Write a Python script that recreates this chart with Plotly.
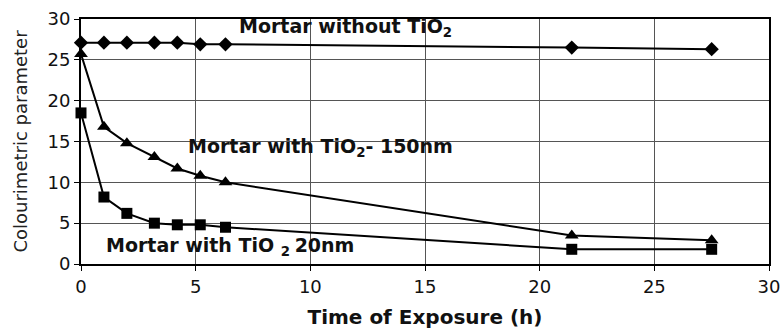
import plotly.graph_objects as go

# Exposure times (h) and colourimetric readings for each mortar
time_no_tio2 = [0, 1.0, 2.0, 3.2, 4.2, 5.2, 6.3, 21.4, 27.5]
val_no_tio2 = [27.1, 27.1, 27.1, 27.1, 27.1, 26.9, 26.9, 26.5, 26.3]

time_150nm = [0, 1.0, 2.0, 3.2, 4.2, 5.2, 6.3, 21.4, 27.5]
val_150nm = [25.7, 16.8, 14.8, 13.1, 11.7, 10.8, 10.0, 3.5, 2.9]

time_20nm = [0, 1.0, 2.0, 3.2, 4.2, 5.2, 6.3, 21.4, 27.5]
val_20nm = [18.5, 8.2, 6.2, 5.0, 4.8, 4.8, 4.5, 1.8, 1.8]

x_ticks = [0, 5, 10, 15, 20, 25, 30]
y_ticks = [0, 5, 10, 15, 20, 25, 30]

FONT = "DejaVu Sans, Verdana, sans-serif"

fig = go.Figure()

def add_series(x, y, symbol, size):
    fig.add_trace(go.Scatter(
        x=x, y=y, mode="lines+markers",
        line=dict(color="black", width=2),
        marker=dict(symbol=symbol, size=size, color="black"),
        showlegend=False, cliponaxis=False,
    ))

add_series(time_no_tio2, val_no_tio2, "diamond", 11)
add_series(time_150nm, val_150nm, "triangle-up", 12)
add_series(time_20nm, val_20nm, "square", 11)

labels = [
    (6.8, 28.9, "<b>Mortar without TiO<sub>2</sub></b>"),
    (4.6, 14.3, "<b>Mortar with TiO<sub>2</sub>- 150nm</b>"),
    (1.0, 2.2, "<b>Mortar with TiO <sub>2 </sub>20nm</b>"),
]
for x, y, t in labels:
    fig.add_annotation(x=x, y=y, text=t, showarrow=False, xanchor="left",
                       font=dict(family=FONT, size=19, color="#111"))

axis_common = dict(
    range=[0, 30], showgrid=True, gridcolor="#555", gridwidth=1,
    showline=True, linecolor="black", linewidth=2, mirror=True,
    ticks="outside", ticklen=5, tickcolor="black", zeroline=False,
    automargin=False,
    tickfont=dict(family=FONT, size=18, color="#111"),
)

fig.update_xaxes(
    tickvals=x_ticks, **axis_common,
    title=dict(text="<b>Time of Exposure (h)</b>",
               font=dict(family=FONT, size=20, color="#111"), standoff=14),
)
fig.update_yaxes(
    tickvals=y_ticks, **axis_common,
    title=dict(text="Colourimetric parameter",
               font=dict(family=FONT, size=18, color="#222"), standoff=15),
)

fig.update_layout(
    width=784, height=333,
    margin=dict(l=81, r=15, t=19, b=69),
    paper_bgcolor="white", plot_bgcolor="white",
)

fig.write_html("out.html")
